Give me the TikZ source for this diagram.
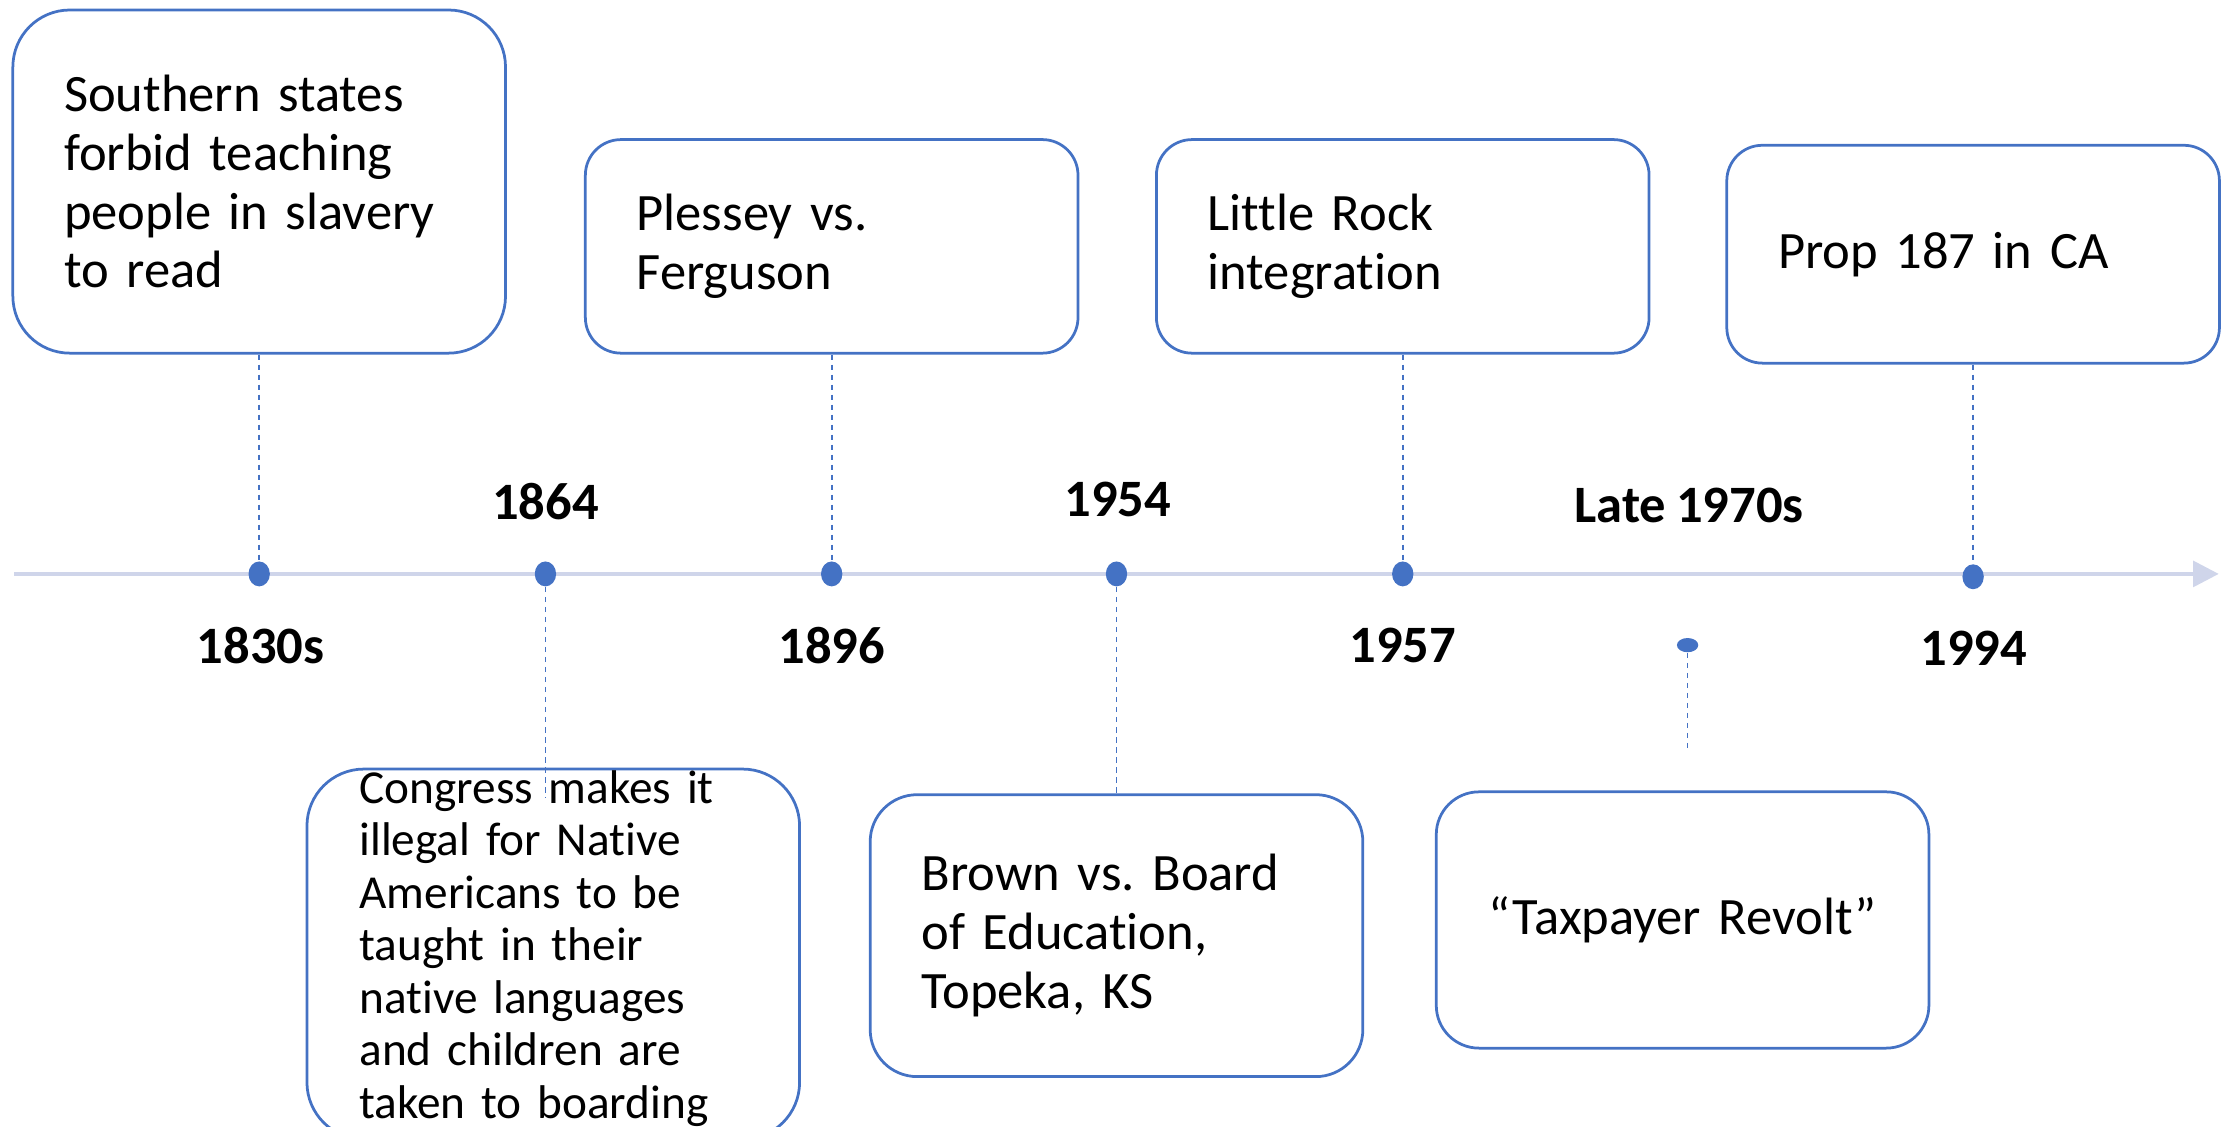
\documentclass[tikz,border=0pt]{standalone}
\usepackage{fontspec}
\setmainfont{Carlito}[Ligatures=NoCommon, WordSpace=0.85]
\frenchspacing
\usetikzlibrary{arrows.meta,shapes.geometric,positioning}
\definecolor{accentblue}{HTML}{4472C4}
\definecolor{axisgray}{HTML}{CFD5EA}

\begin{document}
\begin{tikzpicture} [
		x=0.02cm, y=-0.02cm,
		evbox/.style    = { rectangle, draw=accentblue, line width=1.1pt,
			rounded corners=0.5cm, minimum width=6.92cm, text width=5.48cm,
			inner xsep=0.72cm, inner ysep=0pt, align=left,
			font=\fontsize{21}{23.5}\selectfont },
		evdot/.style    = { ellipse, fill=accentblue, inner sep=0pt,
			minimum width=0.3cm, minimum height=0.35cm },
		year/.style     = { font=\fontsize{21}{24}\selectfont\bfseries },
		stemline/.style = { draw=accentblue, line width=0.7pt,
			dash pattern=on 2.2pt off 1.8pt },
		axisline/.style = { draw=axisgray, line width=1.6pt,
			-{Triangle[length=0.36cm,width=0.36cm]} },
	]
	\useasboundingbox (0,0) rectangle (1568,791);
	% time axis
	\coordinate (axisstart) at (10,403);
	\coordinate (axisend) at (1558,403);
	\path[axisline] (axisstart) -- (axisend);
	% Define nodes
	\begin{scope}
		\node [evbox, minimum height=4.82cm, rounded corners=0.8cm] (southern) at (182,127.5)
			{Southern states\\forbid teaching\\people in slavery\\to read};
		\node [evbox, minimum height=3cm] (plessey) at (584,173) {Plessey vs.\\Ferguson};
		\node [evbox, minimum height=3cm] (littlerock) at (985,173) {Little Rock\\integration};
		\node [evbox, minimum height=3.06cm] (prop) at (1385.5,178.5) {Prop 187 in CA};
		\node [evbox, minimum height=5.2cm, rounded corners=0.8cm] (congress) at (388.5,670) {};
		\node [anchor=west, inner sep=0pt, text width=5.4cm, align=left,
			font=\fontsize{18.9}{21}\selectfont] (congtext) at (252,666)
			{Congress makes it\\illegal for Native\\Americans to be\\taught in their\\native languages\\and children are\\taken to boarding};
		\node [evbox, minimum height=3.96cm, rounded corners=0.66cm] (brown) at (784,657)
			{Brown vs. Board\\of Education,\\Topeka, KS};
		\node [evbox, minimum height=3.6cm, rounded corners=0.6cm, align=center] (taxpayer) at (1181.5,646)
			{``Taxpayer Revolt''};
		% dots on the axis
		\node [evdot] (d1830) at (182,403) {};
		\node [evdot] (d1864) at (383,403) {};
		\node [evdot] (d1896) at (584,403) {};
		\node [evdot] (d1954) at (784,403) {};
		\node [evdot] (d1957) at (985,403) {};
		\node [evdot, minimum width=0.3cm, minimum height=0.2cm] (d1970) at (1185,453) {};
		\node [evdot] (d1994) at (1385.5,405) {};
		% years
		\node [year] (y1830) at (183,453) {1830s};
		\node [year] (y1864) at (383,352) {1864};
		\node [year] (y1896) at (584,453) {1896};
		\node [year] (y1954) at (785,351) {1954};
		\node [year] (y1957) at (985,453) {1957};
		\node [year] (y1970) at (1186,355) {Late 1970s};
		\node [year] (y1994) at (1386,455) {1994};
		\coordinate (congend) at (383,560);
		\coordinate (taxend) at (1185,528);
	\end{scope}
	% connect boxes and dots
	\begin{scope} [every path/.style=stemline]
		\path (southern)   -- (d1830);
		\path (d1864)      -- (congend);
		\path (plessey)    -- (d1896);
		\path (d1954)      -- (brown);
		\path (littlerock) -- (d1957);
		\path (d1970)      -- (taxend);
		\path (prop)       -- (d1994);
	\end{scope}
\end{tikzpicture}
\end{document}
